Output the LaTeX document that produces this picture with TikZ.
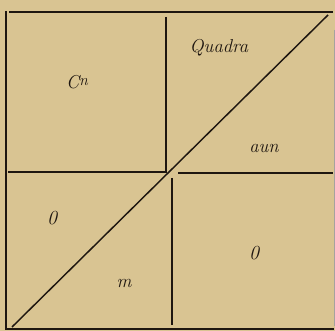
\documentclass[tikz,border=0pt]{standalone}
\usepackage{tikz}
\usetikzlibrary{positioning}
\definecolor{paperTan}{HTML}{D9C492}
\definecolor{inkDk}{HTML}{1E1610}
\tikzset{
  rule/.style    = {draw=inkDk, line width=1.1pt},
  ruleth/.style  = {draw=inkDk, line width=0.5pt},
  lab/.style     = {font=\fontsize{14}{16}\selectfont\itshape, text=inkDk, inner sep=0pt},
}
\begin{document}
\begin{tikzpicture}[x=0.75pt, y=-0.75pt]
    \fill[paperTan] (0,0) rectangle (335,331);
    \useasboundingbox (0,0) rectangle (335,331);
    % corners of the square and the inner crossing
    \coordinate (tl) at (6,11);
    \coordinate (bl) at (6,329);
    \coordinate (br) at (334,329);
    % frame
    \draw[rule] (tl) -- (bl) -- (br);
    \draw[rule] (9,12) -- (333,12);
    \draw[ruleth, draw=inkDk!40] (334,30) -- (334,326);
    % cross, split at the middle
    \draw[rule] (166,17) -- (166,172);
    \draw[rule] (8,172) -- (167,172);
    \draw[rule] (178,173) -- (333,173);
    \draw[rule] (172,178) -- (172,325);
    % diagonal
    \draw[rule] (12,327) -- (328,15);
    % labels
    \node[lab] (cn)     at (77,82)   {C\raisebox{2.5pt}{\fontsize{12}{14}\selectfont n}};
    \node[lab] (quadra) at (219,48)  {Quadra};
    \node[lab] (aun)    at (264,148) {aun};
    \node[lab, font=\fontsize{15}{17}\selectfont\itshape] (nulA) at (52,218) {0};
    \node[lab, font=\fontsize{15}{17}\selectfont\itshape] (nulB) at (254,253) {0};
    \node[lab] (emm)    at (124,283) {m};
\end{tikzpicture}
\end{document}
